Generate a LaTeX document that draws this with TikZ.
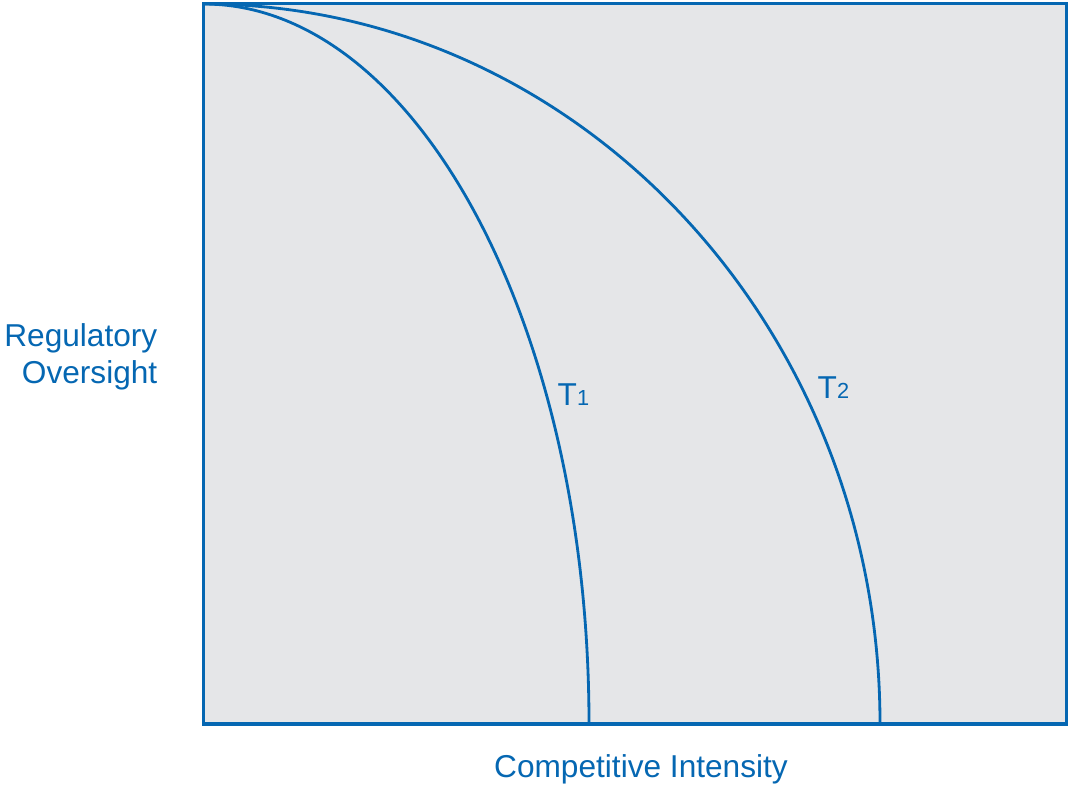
\documentclass[tikz,border=0pt]{standalone}
\usepackage{fontspec}
\setmainfont{Liberation Sans}
\usetikzlibrary{positioning}
\definecolor{chartBlue}{HTML}{0567B2}
\definecolor{chartBack}{HTML}{E5E6E8}

\begin{document}
\begin{tikzpicture}[
    frame/.style={
        draw=chartBlue,
        fill=chartBack,
        line width=0.9pt
    },
    curve/.style={
        draw=chartBlue,
        line width=0.8pt
    },
    axislabel/.style={
        inner sep=0pt,
        text=chartBlue,
        font=\fontsize{9}{10.4}\selectfont
    },
    curvelabel/.style={
        inner sep=0pt,
        anchor=base west,
        text=chartBlue,
        font=\fontsize{9}{10.4}\selectfont
    }
]
\useasboundingbox (0,0) rectangle (10.69,7.87);

% Frame
\draw[frame] (2.035,0.63) rectangle (10.665,7.835);
\coordinate (origin) at (2.035,0.63);

% Curves
\draw[curve] (2.035,7.83) arc[start angle=90, end angle=0, x radius=3.855, y radius=7.2];
\draw[curve] (2.035,7.83) arc[start angle=90, end angle=0, x radius=6.765, y radius=7.2];

% Labels
\node[curvelabel] (tone) at (5.57,3.82) {T{\fontsize{6.2}{7}\selectfont 1}};
\node[curvelabel] (ttwo) at (8.17,3.89) {T{\fontsize{6.2}{7}\selectfont 2}};

\node[axislabel, align=right, anchor=east] (oversight) at (1.58,4.30) {Regulatory\\Oversight};
\node[axislabel, anchor=base] (intensity) at (6.41,0.10) {Competitive Intensity};

\end{tikzpicture}
\end{document}
